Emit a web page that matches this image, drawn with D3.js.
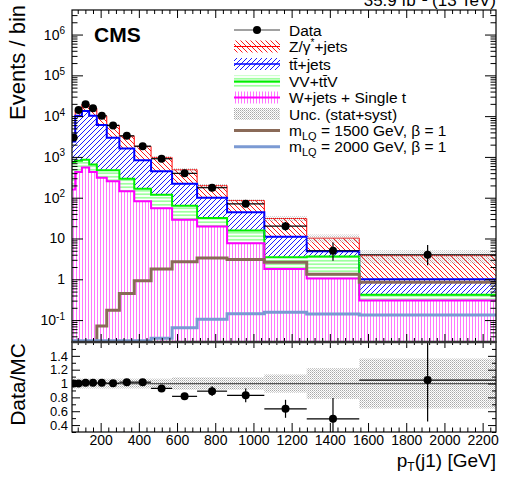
<!DOCTYPE html>
<html>
<head>
<meta charset="utf-8">
<script src="https://cdn.jsdelivr.net/npm/d3@7"></script>
<style>
body{margin:0;background:#fff}
svg{font-family:"Liberation Sans",Arial,Helvetica,sans-serif}
</style>
</head>
<body>
<svg id="chart" width="507" height="478"></svg>
<script>
// bin edges in GeV (15 bins)
var binEdges = [50,67,102,140,180,232,298,376,464,574,705,862,1057,1279,1554,2270];
// stacked backgrounds, events per bin
var wjets = [160,425,550,425,310,255,145,82,55,28.7,19.6,7.6,1.78,1.05,0.30];
var vvttv = [590,375,300,225,160,215,145,84,63,35,12.4,8.0,1.67,2.55,0.115];
var ttbar = [1650,9400,12550,9550,5570,2470,1320,664,326,157,68,28.4,7.65,1.3,0.585];
var zjets = [600,3900,5900,5250,4060,2960,1615,970,527,265,98,41.5,19.8,5.3,2.8];
var uncRel = [0.07,0.07,0.07,0.07,0.07,0.07,0.07,0.07,0.07,0.09,0.09,0.09,0.13,0.22,0.36];
// data
var dataVals = [3000,14100,19500,15600,10200,5930,3290,1835,903,396,176,71,20,5,4];
var dataErrLo = [55,119,140,125,101,77,57,43,30,20,13,8.4,4.4,2.15,1.8];
var dataErrHi = [55,119,140,125,101,77,57,43,30,20,13,8.4,5.5,3.0,2.9];
// signals
var sig1500 = [0.03,0.03,0.03,0.03,0.072,0.174,0.447,0.92,1.78,2.7,3.33,3.05,2.6,1.32,0.85];
var sig2000 = [0.031,0.031,0.031,0.031,0.031,0.031,0.031,0.031,0.036,0.065,0.105,0.143,0.155,0.14,0.134];
// ratio panel
var ratioVals = [1.0,1.0,1.01,1.01,1.01,1.005,1.02,1.02,0.93,0.815,0.89,0.83,0.635,0.49,1.05];
var ratioErrLo = [0.02,0.01,0.01,0.01,0.01,0.015,0.02,0.025,0.035,0.045,0.07,0.1,0.13,0.25,0.6];
var ratioErrHi = [0.02,0.01,0.01,0.01,0.01,0.015,0.02,0.025,0.035,0.045,0.07,0.1,0.13,0.3,0.85];
// ticks
var xMajor = [200,400,600,800,1000,1200,1400,1600,1800,2000,2200];
var yDecades = [-1,0,1,2,3,4,5,6];
var ratioMajor = [0.4,0.6,0.8,1,1.2,1.4];

var L = 72, R = 496, T = 10, B = 342, RB = 432;
var svg = d3.select("#chart");
var x = d3.scaleLinear().domain([50,2270]).range([L,R]);
var y = d3.scaleLog().domain([0.029,4e6]).range([B,T]);
var yr = d3.scaleLinear().domain([0.3,1.6]).range([RB,B]);
var nb = dataVals.length;

// patterns
var defs = svg.append("defs");
function pat(id,w,h,bg,draw){
  var p = defs.append("pattern").attr("id",id).attr("patternUnits","userSpaceOnUse")
    .attr("width",w).attr("height",h);
  if(bg) p.append("rect").attr("width",w).attr("height",h).attr("fill",bg);
  draw(p);
}
pat("pZ",5,5,"#fff",function(p){p.append("path").attr("d","M0,0L5,5M-1,4L1,6M4,-1L6,1").attr("stroke","#ff0000").attr("stroke-width",0.9);});
pat("pTT",5,5,"#fff",function(p){p.append("path").attr("d","M0,5L5,0M-1,1L1,-1M4,6L6,4").attr("stroke","#0000ff").attr("stroke-width",0.9);});
pat("pVV",4,3.5,"#fff",function(p){p.append("path").attr("d","M0,1.75H4").attr("stroke","#55ff55").attr("stroke-width",1);});
pat("pW",3,4,"#fff",function(p){p.append("path").attr("d","M1.5,0V4").attr("stroke","#ff77ff").attr("stroke-width",1);});
pat("pUnc",2,2,null,function(p){
  p.append("rect").attr("x",0).attr("y",0).attr("width",1).attr("height",1).attr("fill","#a8a8a8");
  p.append("rect").attr("x",1).attr("y",1).attr("width",1).attr("height",1).attr("fill","#cccccc");
});
defs.append("clipPath").attr("id","clipTop").append("rect").attr("x",L).attr("y",T).attr("width",R-L).attr("height",B-T);
defs.append("clipPath").attr("id","clipRat").append("rect").attr("x",L).attr("y",B).attr("width",R-L).attr("height",RB-B);

// cumulative stack
var c1 = wjets.slice();
var c2 = c1.map(function(v,i){return v+vvttv[i];});
var c3 = c2.map(function(v,i){return v+ttbar[i];});
var c4 = c3.map(function(v,i){return v+zjets[i];});

function stepPts(vals){
  return binEdges.map(function(e,i){return [e, vals[Math.min(i,nb-1)]];});
}
var ymin = y.domain()[0];
function cl(v){return Math.max(v,ymin);}

var upper = svg.append("g").attr("clip-path","url(#clipTop)");
var layers = [
  {hi:c4,fill:"url(#pZ)",stroke:"#ff0000",sw:1},
  {hi:c3,fill:"url(#pTT)",stroke:"#0000ff",sw:2},
  {hi:c2,fill:"url(#pVV)",stroke:"#00ee00",sw:2},
  {hi:c1,fill:"url(#pW)",stroke:"#ff00ff",sw:2}
];
layers.forEach(function(ly){
  var area = d3.area().curve(d3.curveStepAfter)
    .x(function(d){return x(d[0]);}).y0(B+2).y1(function(d){return y(cl(d[1]));});
  upper.append("path").datum(stepPts(ly.hi)).attr("d",area).attr("fill",ly.fill);
});
layers.forEach(function(ly){
  var line = d3.line().curve(d3.curveStepAfter)
    .x(function(d){return x(d[0]);}).y(function(d){return y(cl(d[1]));});
  upper.append("path").datum(stepPts(ly.hi)).attr("d",line).attr("fill","none")
    .attr("stroke",ly.stroke).attr("stroke-width",ly.sw);
});
// uncertainty band
var uncArea = d3.area().curve(d3.curveStepAfter)
  .x(function(d){return x(d[0]);})
  .y0(function(d,i){var k=Math.min(i,nb-1);return y(c4[k]*(1-uncRel[k]));})
  .y1(function(d,i){var k=Math.min(i,nb-1);return y(c4[k]*(1+uncRel[k]));});
upper.append("path").datum(stepPts(c4)).attr("d",uncArea).attr("fill","url(#pUnc)").attr("opacity",0.65);

// signals
[[sig1500,"#8a6a58"],[sig2000,"#7b9ad3"]].forEach(function(s){
  var line = d3.line().curve(d3.curveStepAfter)
    .x(function(d){return x(d[0]);}).y(function(d){return y(cl(d[1]));});
  upper.append("path").datum(stepPts(s[0])).attr("d",line).attr("fill","none")
    .attr("stroke",s[1]).attr("stroke-width",3);
});

// data points
var centers = dataVals.map(function(v,i){return (binEdges[i]+binEdges[i+1])/2;});
var dg = upper.append("g");
dataVals.forEach(function(v,i){
  var cx = x(centers[i]);
  dg.append("line").attr("x1",x(binEdges[i])).attr("x2",x(binEdges[i+1]))
    .attr("y1",y(v)).attr("y2",y(v)).attr("stroke","#000").attr("stroke-width",1.2);
  dg.append("line").attr("x1",cx).attr("x2",cx).attr("y1",y(v+dataErrHi[i])).attr("y2",y(v-dataErrLo[i]))
    .attr("stroke","#000").attr("stroke-width",1.2);
  dg.append("circle").attr("cx",cx).attr("cy",y(v)).attr("r",4).attr("fill","#000");
});

// ratio panel
var rat = svg.append("g").attr("clip-path","url(#clipRat)");
uncRel.forEach(function(u,i){
  rat.append("rect").attr("x",x(binEdges[i])).attr("width",x(binEdges[i+1])-x(binEdges[i]))
    .attr("y",yr(1+u)).attr("height",yr(1-u)-yr(1+u)).attr("fill","url(#pUnc)");
});
rat.append("line").attr("x1",L).attr("x2",R).attr("y1",yr(1)).attr("y2",yr(1)).attr("stroke","#555").attr("stroke-width",1.2);
ratioVals.forEach(function(v,i){
  var cx = x(centers[i]);
  rat.append("line").attr("x1",x(binEdges[i])).attr("x2",x(binEdges[i+1]))
    .attr("y1",yr(v)).attr("y2",yr(v)).attr("stroke","#000").attr("stroke-width",1.2);
  rat.append("line").attr("x1",cx).attr("x2",cx).attr("y1",yr(v+ratioErrHi[i])).attr("y2",yr(v-ratioErrLo[i]))
    .attr("stroke","#000").attr("stroke-width",1.2);
  rat.append("circle").attr("cx",cx).attr("cy",yr(v)).attr("r",4).attr("fill","#000");
});

// axes
function styleAxis(g,fs){
  g.select(".domain").remove();
  g.selectAll(".tick line").attr("stroke","#000").attr("stroke-width",1);
  g.attr("font-family",null).attr("font-size",fs||14);
}
var xMinor = d3.range(80,2270,40).filter(function(v){return v%200!==0;});
var yMinor = [];
yDecades.concat([-2]).forEach(function(e){for(var k=2;k<10;k++){var v=k*Math.pow(10,e);if(v>ymin&&v<4e6)yMinor.push(v);}});
var rMinor = [0.3,0.5,0.7,0.9,1.1,1.3,1.5];

// upper panel
function logLabel(sel){
  sel.selectAll(".tick text").each(function(d){
    var t = d3.select(this), e = Math.round(Math.log10(d));
    t.text(null);
    if(e===0){t.text("1");}
    else if(e===1){t.text("10");}
    else{t.append("tspan").text("10");t.append("tspan").attr("dy","-0.55em").attr("font-size","10px").text(e);}
  });
}
var yMajorVals = yDecades.map(function(e){return Math.pow(10,e);});
var gl = svg.append("g").attr("transform","translate("+L+",0)")
  .call(d3.axisLeft(y).tickValues(yMajorVals).tickSize(-11).tickPadding(7).tickFormat(""));
styleAxis(gl); logLabel(gl);
styleAxis(svg.append("g").attr("transform","translate("+L+",0)").call(d3.axisLeft(y).tickValues(yMinor).tickSize(-5.5).tickFormat("")));
styleAxis(svg.append("g").attr("transform","translate("+R+",0)").call(d3.axisRight(y).tickValues(yMajorVals).tickSize(-11).tickFormat("")));
styleAxis(svg.append("g").attr("transform","translate("+R+",0)").call(d3.axisRight(y).tickValues(yMinor).tickSize(-5.5).tickFormat("")));
styleAxis(svg.append("g").attr("transform","translate(0,"+T+")").call(d3.axisTop(x).tickValues(xMajor).tickSize(-8).tickFormat("")));
styleAxis(svg.append("g").attr("transform","translate(0,"+T+")").call(d3.axisTop(x).tickValues(xMinor).tickSize(-4).tickFormat("")));
styleAxis(svg.append("g").attr("transform","translate(0,"+B+")").call(d3.axisBottom(x).tickValues(xMajor).tickSize(-8).tickFormat("")));
styleAxis(svg.append("g").attr("transform","translate(0,"+B+")").call(d3.axisBottom(x).tickValues(xMinor).tickSize(-4).tickFormat("")));

// ratio panel axes
var rl = svg.append("g").attr("transform","translate("+L+",0)")
  .call(d3.axisLeft(yr).tickValues(ratioMajor).tickSize(-8).tickPadding(4).tickFormat(function(d){return String(+d.toFixed(1));}));
styleAxis(rl,13);
styleAxis(svg.append("g").attr("transform","translate("+L+",0)").call(d3.axisLeft(yr).tickValues(rMinor).tickSize(-4).tickFormat("")));
styleAxis(svg.append("g").attr("transform","translate("+R+",0)").call(d3.axisRight(yr).tickValues(ratioMajor).tickSize(-8).tickFormat("")));
styleAxis(svg.append("g").attr("transform","translate("+R+",0)").call(d3.axisRight(yr).tickValues(rMinor).tickSize(-4).tickFormat("")));
var rb = svg.append("g").attr("transform","translate(0,"+RB+")")
  .call(d3.axisBottom(x).tickValues(xMajor).tickSize(-9).tickPadding(3).tickFormat(d3.format("d")));
styleAxis(rb);
styleAxis(svg.append("g").attr("transform","translate(0,"+RB+")").call(d3.axisBottom(x).tickValues(xMinor).tickSize(-4.5).tickFormat("")));
styleAxis(svg.append("g").attr("transform","translate(0,"+B+")").call(d3.axisTop(x).tickValues(xMajor).tickSize(-6).tickFormat("")));
styleAxis(svg.append("g").attr("transform","translate(0,"+B+")").call(d3.axisTop(x).tickValues(xMinor).tickSize(-3).tickFormat("")));

// frames
svg.append("rect").attr("x",L).attr("y",T).attr("width",R-L).attr("height",B-T).attr("fill","none").attr("stroke","#000").attr("stroke-width",1.2);
svg.append("rect").attr("x",L).attr("y",B).attr("width",R-L).attr("height",RB-B).attr("fill","none").attr("stroke","#000").attr("stroke-width",1.2);
svg.append("line").attr("x1",L).attr("x2",R).attr("y1",B).attr("y2",B).attr("stroke","#333").attr("stroke-width",2.5);

// titles
svg.append("text").attr("transform","translate(25,5) rotate(-90)").attr("text-anchor","end").attr("font-size",22).text("Events / bin");
svg.append("text").attr("transform","translate(25,343) rotate(-90)").attr("text-anchor","end").attr("font-size",21).text("Data/MC");
var xt = svg.append("text").attr("x",R).attr("y",467).attr("text-anchor","end").attr("font-size",19);
xt.append("tspan").text("p");
xt.append("tspan").attr("dy",4).attr("font-size",12).text("T");
xt.append("tspan").attr("dy",-4).text("(j1) [GeV]");
svg.append("text").attr("x",94).attr("y",42).attr("font-size",21).attr("font-weight","bold").text("CMS");
svg.append("text").attr("x",R).attr("y",6).attr("text-anchor","end").attr("font-size",17).text("35.9 fb\u207B\u00B9 (13 TeV)");

// legend
var lg = svg.append("g");
var lx0 = 234, lx1 = 280, tx = 289;
function legText(yc,parts){
  var t = lg.append("text").attr("x",tx).attr("y",yc+5.5).attr("font-size",15.5);
  parts.forEach(function(p){
    var s = t.append("tspan").text(p[0]);
    if(p[1]==="sup") s.attr("dy",-6).attr("font-size",10);
    if(p[1]==="sub") s.attr("dy",4).attr("font-size",11);
    if(p[1]==="back") s.attr("dy",p[2]);
  });
}
lg.append("line").attr("x1",lx0).attr("x2",lx1).attr("y1",30).attr("y2",30).attr("stroke","#444").attr("stroke-width",1.2);
lg.append("circle").attr("cx",257).attr("cy",30).attr("r",4).attr("fill","#000");
legText(30,[["Data"]]);
var boxes = [[46.5,"url(#pZ)","#ff0000",1],[64,"url(#pTT)","#0000ff",1.5],[81.5,"url(#pVV)","#00ee00",2],[97.5,"url(#pW)","#ff00ff",2],[114,"url(#pUnc)",null,0]];
boxes.forEach(function(b){
  lg.append("rect").attr("x",lx0).attr("y",b[0]-6).attr("width",lx1-lx0).attr("height",12).attr("fill",b[1]);
  if(b[2]) lg.append("line").attr("x1",lx0).attr("x2",lx1).attr("y1",b[0]).attr("y2",b[0]).attr("stroke",b[2]).attr("stroke-width",b[3]);
});
legText(46.5,[["Z/\u03B3"],["*","sup"],["+jets","back",6]]);
legText(64,[["tt\u0304+jets"]]);
legText(81.5,[["VV+tt\u0304V"]]);
legText(97.5,[["W+jets + Single t"]]);
legText(114,[["Unc. (stat+syst)"]]);
lg.append("line").attr("x1",lx0).attr("x2",lx1).attr("y1",130.5).attr("y2",130.5).attr("stroke","#8a6a58").attr("stroke-width",3);
legText(130.5,[["m"],["LQ","sub"],[" = 1500 GeV, \u03B2 = 1","back",-4]]);
lg.append("line").attr("x1",lx0).attr("x2",lx1).attr("y1",146.7).attr("y2",146.7).attr("stroke","#7b9ad3").attr("stroke-width",3);
legText(146.7,[["m"],["LQ","sub"],[" = 2000 GeV, \u03B2 = 1","back",-4]]);
</script>
</body>
</html>
